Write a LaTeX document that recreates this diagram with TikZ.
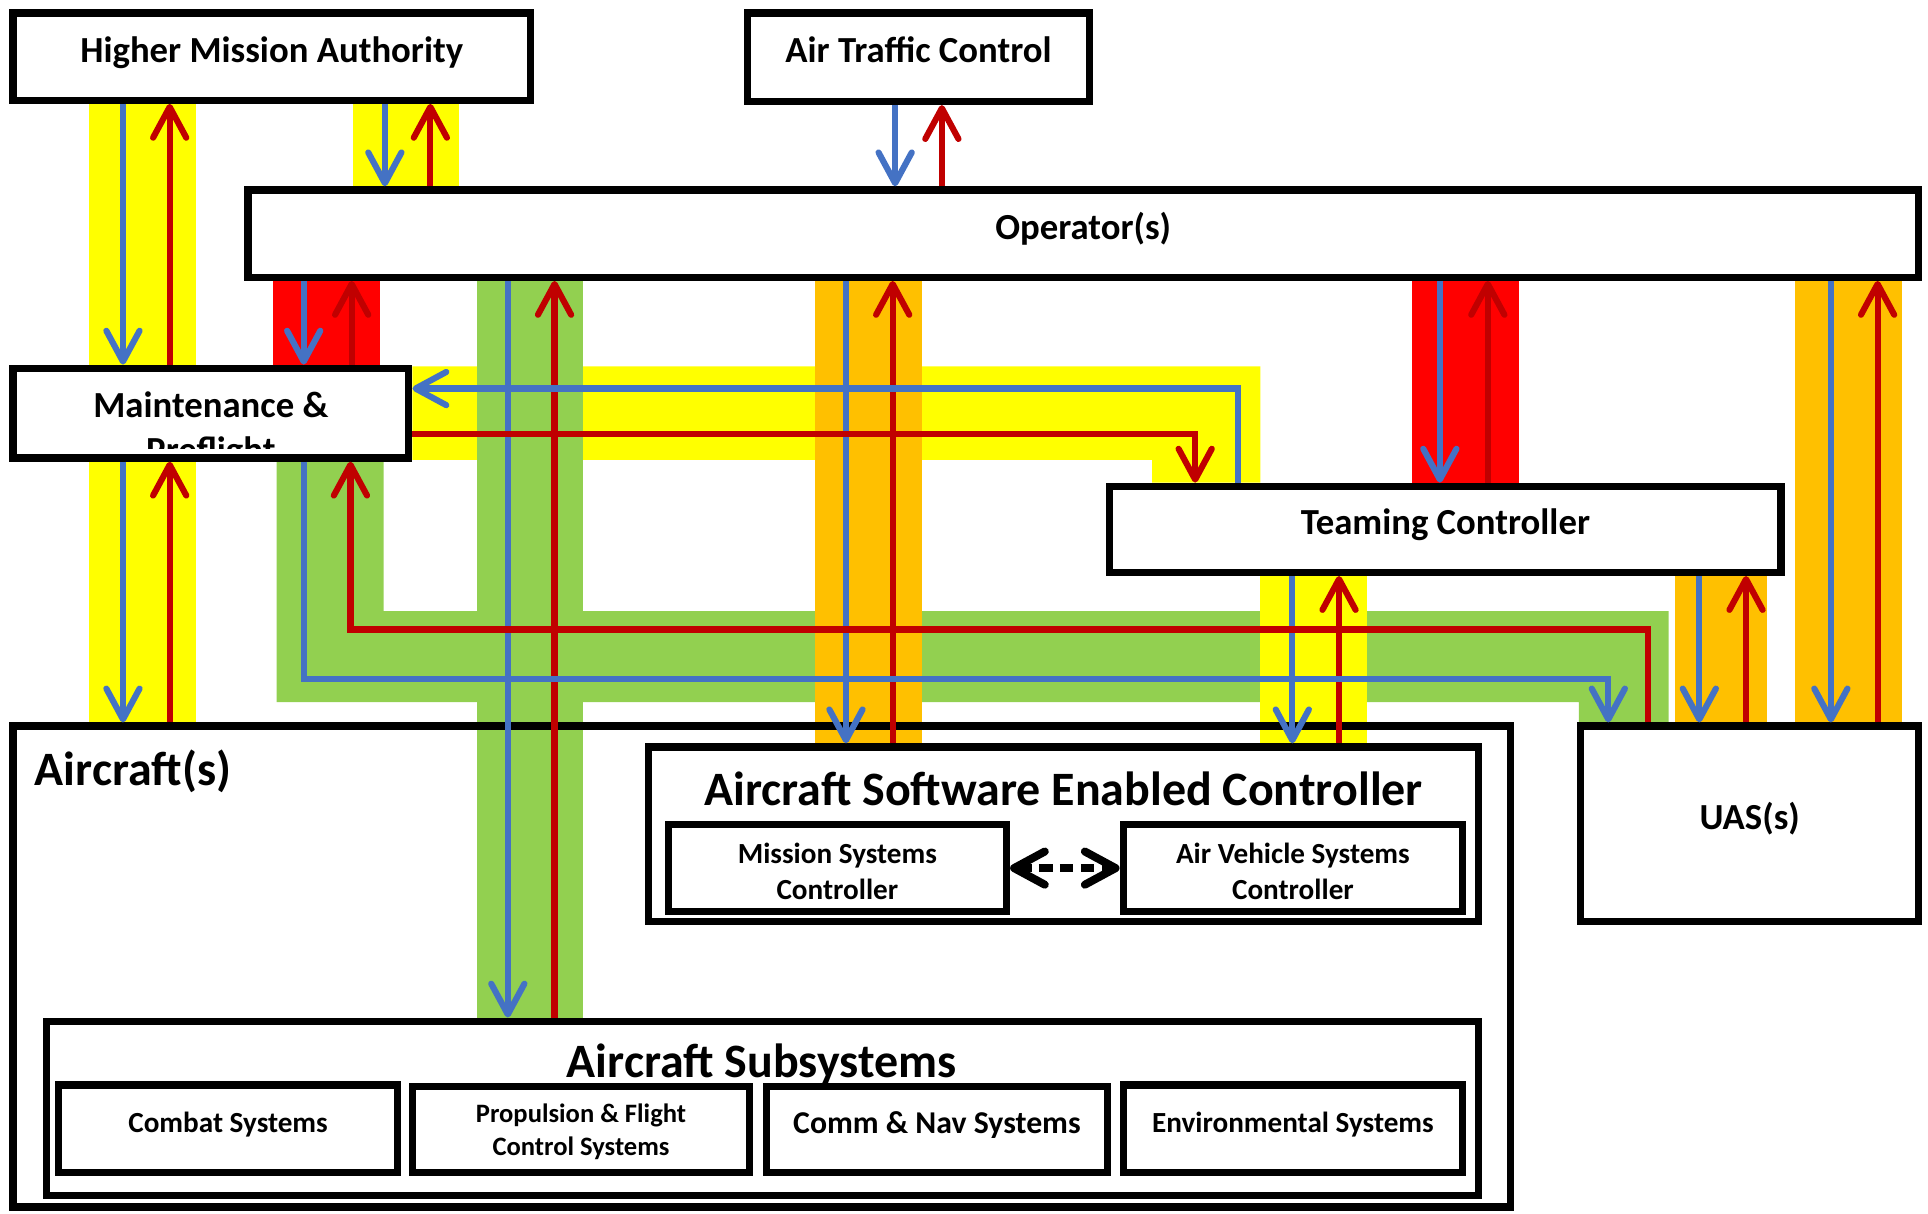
\documentclass[tikz,border=0pt]{standalone}
\usepackage{fontspec}
\setmainfont{Carlito}
\usepackage{xcolor}
\usepackage{tikz}
\usetikzlibrary{arrows.meta,backgrounds}

\definecolor{bandyellow}{HTML}{FFFF00}
\definecolor{bandred}{HTML}{FF0000}
\definecolor{bandgreen}{HTML}{92D050}
\definecolor{bandorange}{HTML}{FFC000}
\definecolor{flowblue}{HTML}{4472C4}
\definecolor{flowred}{HTML}{C00000}

\tikzset{
	flowtip/.tip={Straight Barb[length=0.5cm, width=0.54cm, round]},
	box/.style={draw, line width=0.12cm, fill=white, inner sep=0pt, text height=0.4cm, text depth=0.22cm, font=\bfseries\fontsize{17}{20.5}\selectfont},
	smallbox/.style={box, minimum width=5.5cm, minimum height=1.42cm, text height=0.33cm, text depth=0.224cm, font=\bfseries\fontsize{13.5}{16}\selectfont},
	smalltxt/.style={inner sep=0pt, anchor=base, font=\bfseries\fontsize{13.5}{16}\selectfont},
	bigtitle/.style={inner sep=0pt, font=\bfseries\fontsize{22.2}{26}\selectfont},
	lbl/.style={inner sep=0pt, anchor=base, font=\bfseries\fontsize{17}{20.5}\selectfont},
	blueflow/.style={draw=flowblue, line width=0.1cm, -{flowtip}},
	redflow/.style={draw=flowred, line width=0.1cm, -{flowtip}},
	pairflow/.style={draw=black, line width=0.13cm, dash pattern=on 0.22cm off 0.12cm, {flowtip}-{flowtip}}
}

\begin{document}
\begin{tikzpicture}[x=0.02cm, y=-0.02cm]
	\useasboundingbox (0,0) rectangle (1568,987);

	\node[box, minimum width=8.42cm, minimum height=1.42cm] (hma) at (221,46) {Higher Mission Authority};
	\node[box, minimum width=5.56cm, minimum height=1.44cm] (atc) at (747,46.5) {Air Traffic Control};
	\node[box, minimum width=27.18cm, minimum height=1.42cm] (op) at (881,190) {Operator(s)};
	\node[box, minimum width=6.44cm, minimum height=1.46cm] (maint) at (171.5,336) {};
	\begin{scope}
		\clip (maint.north west) rectangle (maint.east |- 0,365);
		\node[lbl] (mainttop) at (171.5,339.5) {Maintenance \&};
		\node[lbl] (maintbot) at (171.5,376) {Preflight};
	\end{scope}
	\node[box, minimum width=10.92cm, minimum height=1.40cm] (team) at (1175.5,430.5) {Teaming Controller};

	\node[box, fill=none, minimum width=24.36cm, minimum height=7.82cm] (acft) at (619.5,786) {};
	\node[bigtitle, anchor=base west] (acfttitle) at (28,639) {Aircraft(s)};
	\node[box, minimum width=13.5cm, minimum height=2.84cm] (asec) at (865,678.5) {};
	\node[bigtitle, anchor=base] (asectitle) at (865,655) {Aircraft Software Enabled Controller};
	\node[box, minimum width=5.5cm, minimum height=1.42cm] (msc) at (681,706) {};
	\node[smalltxt] (msctop) at (681,702.5) {Mission Systems};
	\node[smalltxt] (mscbot) at (681,731.5) {Controller};
	\node[box, minimum width=5.52cm, minimum height=1.42cm] (avsc) at (1051.5,706) {};
	\node[smalltxt] (avsctop) at (1051.5,702.5) {Air Vehicle Systems};
	\node[smalltxt] (avscbot) at (1051.5,731.5) {Controller};
	\node[box, minimum width=5.5cm, minimum height=3.18cm] (uas) at (1423,670) {UAS(s)};

	\node[box, minimum width=23.3cm, minimum height=2.84cm] (subs) at (620,901.5) {};
	\node[smallbox, minimum width=5.52cm] (cmb) at (185.5,918) {Combat Systems};
	\node[box, minimum width=5.48cm, minimum height=1.40cm] (prop) at (472.5,918.5) {};
	\node[smalltxt, font=\bfseries\fontsize{12.3}{15}\selectfont] (proptop) at (472.5,913) {Propulsion \& Flight};
	\node[smalltxt, font=\bfseries\fontsize{12.3}{15}\selectfont] (propbot) at (472.5,940) {Control Systems};
	\node[smallbox, minimum width=5.54cm, minimum height=1.40cm, text height=0.35cm, text depth=0.216cm, font=\bfseries\fontsize{14.7}{17}\selectfont] (cnav) at (762,918.5) {Comm \& Nav Systems};
	\node[smallbox, minimum width=5.52cm] (env) at (1051.5,918) {Environmental Systems};
	\node[bigtitle, anchor=base] (substitle) at (619.5,876) {Aircraft Subsystems};

	\begin{scope}[on background layer]
		\fill[bandyellow] (maint.east |- 0,298) -- (1025,298) -- (team.north -| 1025,0) -- (team.north -| 937,0) -- (937,374) -- (maint.east |- 0,374) -- cycle;
		\fill[bandgreen] (maint.south -| 225,0) -- (maint.south -| 312,0) -- (312,497) -- (1357,497) -- (uas.north -| 1357,0) -- (uas.north -| 1284,0) -- (1284,571) -- (225,571) -- cycle;
		\fill[bandgreen] (op.south -| 388,0) rectangle (subs.north -| 474,0);
		\fill[bandyellow] (hma.south -| 72,0) rectangle (maint.north -| 159,0);
		\fill[bandyellow] (hma.south -| 287,0) rectangle (op.north -| 373,0);
		\fill[bandyellow] (maint.south -| 72,0) rectangle (acft.north -| 159,0);
		\fill[bandred] (op.south -| 222,0) rectangle (maint.north -| 309,0);
		\fill[bandred] (op.south -| 1148,0) rectangle (team.north -| 1235,0);
		\fill[bandorange] (op.south -| 663,0) rectangle (asec.north -| 750,0);
		\fill[bandorange] (op.south -| 1460,0) rectangle (uas.north -| 1547,0);
		\fill[bandorange] (team.south -| 1362,0) rectangle (uas.north -| 1437,0);
		\fill[bandyellow] (team.south -| 1025,0) rectangle (asec.north -| 1112,0);
	\end{scope}

	\draw[blueflow] (hma.south -| 100,0) -- (maint.north -| 100,0);
	\draw[redflow] (maint.north -| 138,0) -- (hma.south -| 138,0);
	\draw[blueflow] (hma.south -| 313,0) -- (op.north -| 313,0);
	\draw[redflow] (op.north -| 350,0) -- (hma.south -| 350,0);
	\draw[blueflow] (atc.south -| 728,0) -- (op.north -| 728,0);
	\draw[redflow] (op.north -| 766,0) -- (atc.south -| 766,0);
	\draw[blueflow] (op.south -| 247,0) -- (maint.north -| 247,0);
	\draw[redflow] (maint.north -| 286,0) -- (op.south -| 286,0);
	\draw[blueflow] (maint.south -| 100,0) -- (acft.north -| 100,0);
	\draw[redflow] (acft.north -| 138,0) -- (maint.south -| 138,0);
	\draw[blueflow] (op.south -| 413,0) -- (subs.north -| 413,0);
	\draw[redflow] (subs.north -| 451,0) -- (op.south -| 451,0);
	\draw[blueflow] (op.south -| 688,0) -- (asec.north -| 688,0);
	\draw[redflow] (asec.north -| 726,0) -- (op.south -| 726,0);
	\draw[blueflow] (op.south -| 1171,0) -- (team.north -| 1171,0);
	\draw[redflow] (team.north -| 1210,0) -- (op.south -| 1210,0);
	\draw[blueflow] (op.south -| 1489,0) -- (uas.north -| 1489,0);
	\draw[redflow] (uas.north -| 1527,0) -- (op.south -| 1527,0);
	\draw[blueflow] (team.south -| 1051,0) -- (asec.north -| 1051,0);
	\draw[redflow] (asec.north -| 1089,0) -- (team.south -| 1089,0);
	\draw[blueflow] (team.south -| 1382,0) -- (uas.north -| 1382,0);
	\draw[redflow] (uas.north -| 1420,0) -- (team.south -| 1420,0);
	\draw[blueflow] (team.north -| 1007,0) |- (maint.east |- 0,316);
	\draw[redflow] (maint.east |- 0,353) -| (team.north -| 972,0);
	\draw[blueflow] (maint.south -| 247,0) |- (1308,552) -- (uas.north -| 1308,0);
	\draw[redflow] (uas.north -| 1340,0) |- (285,512) -- (maint.south -| 285,0);
	\draw[pairflow] (msc.east) -- (avsc.west);
\end{tikzpicture}
\end{document}
